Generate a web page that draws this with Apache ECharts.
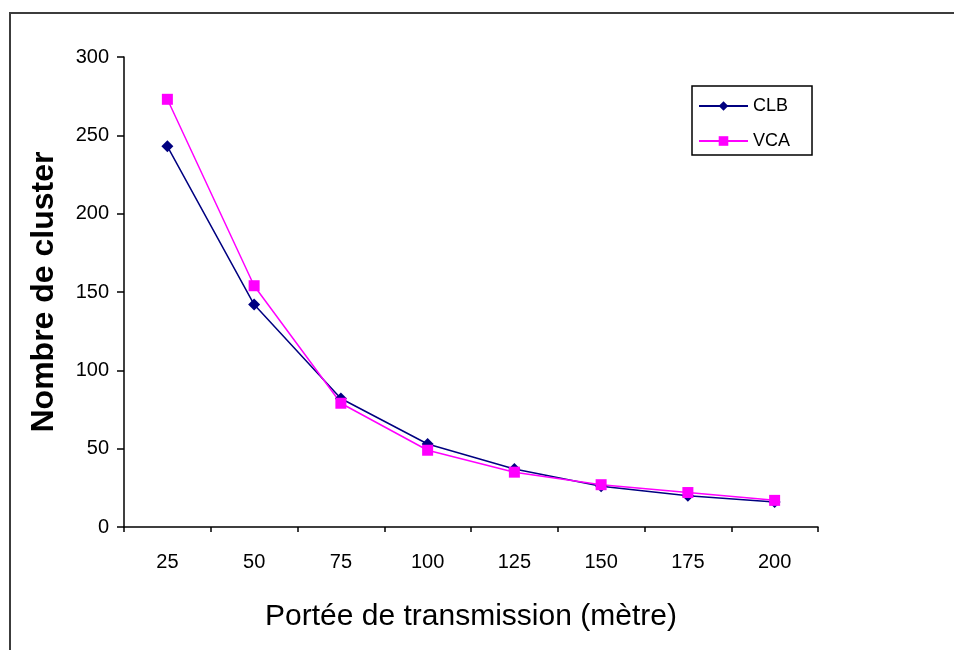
<!DOCTYPE html>
<html>
<head>
<meta charset="utf-8">
<script src="https://cdn.jsdelivr.net/npm/echarts@6/dist/echarts.min.js"></script>
<style>html,body{margin:0;padding:0;background:#fff;}#c{width:954px;height:650px;}</style>
</head>
<body>
<div id="c"></div>
<script>
var categories = ['25', '50', '75', '100', '125', '150', '175', '200'];
var clb = [243, 142, 82, 53, 37, 26, 20, 16];
var vca = [273, 154, 79, 49, 35, 27, 22, 17];
var seriesNames = ['CLB', 'VCA'];
var xTitle = 'Portée de transmission (mètre)';
var yTitle = 'Nombre de cluster';

var font = 'Liberation Sans, Arial, sans-serif';
var chart = echarts.init(document.getElementById('c'), null, {renderer: 'canvas'});
chart.setOption({
  backgroundColor: '#ffffff',
  animation: false,
  graphic: [{
    type: 'rect',
    shape: {x: 10, y: 13, width: 1000, height: 1000},
    style: {fill: 'none', stroke: '#3c3c3c', lineWidth: 2},
    silent: true
  }],
  grid: {left: 124, top: 57, right: 136, bottom: 123, containLabel: false},
  legend: {
    orient: 'vertical',
    left: 692, top: 86,
    padding: [11, 22, 5, 6],
    itemWidth: 49, itemHeight: 12, itemGap: 17,
    borderColor: '#000', borderWidth: 1.5,
    textStyle: {fontFamily: font, fontSize: 18, color: '#000'},
    data: seriesNames
  },
  xAxis: {
    type: 'category',
    data: categories,
    boundaryGap: true,
    axisLine: {lineStyle: {color: '#000', width: 1.5}},
    axisTick: {show: true, length: 5, inside: false, lineStyle: {color: '#000', width: 1.5}},
    axisLabel: {fontFamily: font, fontSize: 20, color: '#000', margin: 25},
    splitLine: {show: false},
    name: xTitle,
    nameLocation: 'middle',
    nameGap: 75,
    nameTextStyle: {fontFamily: font, fontSize: 30, color: '#000'}
  },
  yAxis: {
    type: 'value',
    min: 0, max: 300, interval: 50,
    axisLine: {show: true, lineStyle: {color: '#000', width: 1.5}},
    axisTick: {show: true, length: 7, inside: false, lineStyle: {color: '#000', width: 1.5}},
    axisLabel: {fontFamily: font, fontSize: 20, color: '#000', margin: 15},
    splitLine: {show: false},
    name: yTitle,
    nameLocation: 'middle',
    nameGap: 64,
    nameTextStyle: {fontFamily: font, fontSize: 32, fontWeight: 'bold', color: '#000'}
  },
  series: [{
    name: seriesNames[0],
    type: 'line',
    data: clb,
    symbol: 'diamond',
    symbolSize: 12,
    lineStyle: {color: '#000080', width: 1.5},
    itemStyle: {color: '#000080'}
  }, {
    name: seriesNames[1],
    type: 'line',
    data: vca,
    symbol: 'rect',
    symbolSize: 11,
    lineStyle: {color: '#ff00ff', width: 1.5},
    itemStyle: {color: '#ff00ff'}
  }]
});
</script>
</body>
</html>
